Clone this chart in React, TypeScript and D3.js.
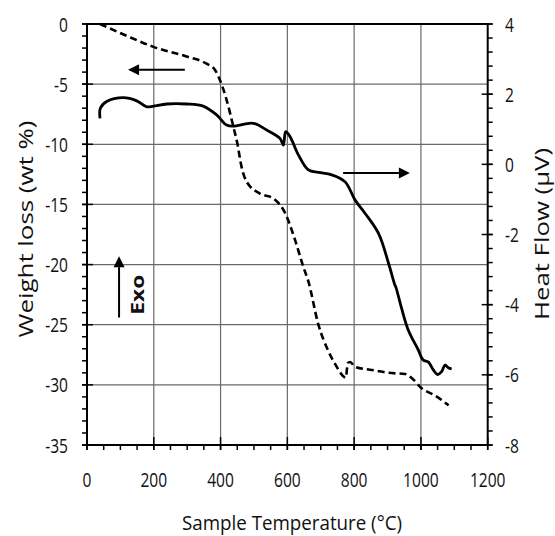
import React, { useEffect, useRef } from 'react';
import * as d3 from 'd3';

// weight loss curve (left axis), dashed
const tempW = [39, 120, 199, 298, 358, 383, 398, 418, 438, 450, 463, 478, 518, 558, 593, 623, 648, 663, 693, 723, 748, 768, 775, 781, 788, 803, 863, 903, 953, 973, 1003, 1043, 1083];
const weight = [0, -1.0, -1.9, -2.7, -3.3, -3.8, -4.65, -6.3, -8.5, -9.9, -11.9, -13.1, -14.1, -14.5, -15.7, -17.95, -20.2, -21.4, -25.0, -27.2, -28.5, -29.3, -29.4, -28.2, -28.1, -28.5, -28.8, -29.0, -29.1, -29.45, -30.3, -30.9, -31.7];

// heat flow curve (right axis), solid
const tempH = [39, 40, 59, 109, 149, 179, 199, 239, 298, 348, 388, 418, 438, 498, 538, 578, 588, 595, 608, 633, 663, 693, 733, 773, 803, 833, 873, 903, 922, 925, 942, 962, 992, 1007, 1022, 1037, 1050, 1062, 1072, 1082, 1092];
const heat = [1.31, 1.6, 1.79, 1.9, 1.81, 1.64, 1.66, 1.72, 1.72, 1.66, 1.41, 1.12, 1.09, 1.17, 0.98, 0.74, 0.55, 0.93, 0.79, 0.27, -0.16, -0.23, -0.3, -0.5, -1.02, -1.4, -1.97, -2.82, -3.44, -3.5, -4.1, -4.72, -5.29, -5.58, -5.63, -5.86, -5.99, -5.91, -5.72, -5.8, -5.83];

const xTicks = [0, 200, 400, 600, 800, 1000, 1200];
const leftTicks = [0, -5, -10, -15, -20, -25, -30, -35];
const rightTicks = [4, 2, 0, -2, -4, -6, -8];

const FONT = '"Open Sans", sans-serif';

const App = () => {
  const ref = useRef<SVGSVGElement | null>(null);

  useEffect(() => {
    if (!ref.current) return;
    const svg = d3.select(ref.current);
    svg.selectAll('*').remove();

    const x = d3.scaleLinear().domain([0, 1200]).range([87, 487.7]);
    const yL = d3.scaleLinear().domain([-35, 0]).range([445, 24]);
    const yR = d3.scaleLinear().domain([-8, 4]).range([445, 24]);
    const [x0, x1] = x.range();
    const [b, t] = yL.range();

    // grid
    const grid = svg.append('g').attr('stroke', '#6a6a6a').attr('stroke-width', 1.2);
    grid.selectAll('line.v')
      .data(xTicks.slice(1, -1))
      .join('line')
      .attr('class', 'v')
      .attr('x1', (d) => x(d)).attr('x2', (d) => x(d))
      .attr('y1', t).attr('y2', b);
    grid.selectAll('line.h')
      .data(leftTicks.slice(1, -1))
      .join('line')
      .attr('class', 'h')
      .attr('x1', x0).attr('x2', x1)
      .attr('y1', (d) => yL(d)).attr('y2', (d) => yL(d));

    // minor ticks
    const minor = svg.append('g').attr('stroke', '#000').attr('stroke-width', 1.5);
    minor.selectAll('line.ml')
      .data(d3.range(-35, 1, 1))
      .join('line')
      .attr('class', 'ml')
      .attr('x1', x0 - 5).attr('x2', x0)
      .attr('y1', (d) => yL(d)).attr('y2', (d) => yL(d));
    minor.selectAll('line.mr')
      .data(d3.range(-8, 4.01, 0.4))
      .join('line')
      .attr('class', 'mr')
      .attr('x1', x1).attr('x2', x1 + 5)
      .attr('y1', (d) => yR(d)).attr('y2', (d) => yR(d));
    minor.selectAll('line.mb')
      .data(d3.range(0, 1201, 50))
      .join('line')
      .attr('class', 'mb')
      .attr('x1', (d) => x(d)).attr('x2', (d) => x(d))
      .attr('y1', b).attr('y2', b + 5);

    // major ticks (crossing)
    const major = svg.append('g').attr('stroke', '#000').attr('stroke-width', 1.5);
    major.selectAll('line.Ml')
      .data(leftTicks)
      .join('line')
      .attr('class', 'Ml')
      .attr('x1', x0 - 5).attr('x2', x0 + 6)
      .attr('y1', (d) => yL(d)).attr('y2', (d) => yL(d));
    major.selectAll('line.Mr')
      .data(rightTicks)
      .join('line')
      .attr('class', 'Mr')
      .attr('x1', x1 - 6).attr('x2', x1 + 5)
      .attr('y1', (d) => yR(d)).attr('y2', (d) => yR(d));
    major.selectAll('line.Mb')
      .data(xTicks)
      .join('line')
      .attr('class', 'Mb')
      .attr('x1', (d) => x(d)).attr('x2', (d) => x(d))
      .attr('y1', b - 8).attr('y2', b + 5);

    // frame
    svg.append('rect')
      .attr('x', x0).attr('y', t)
      .attr('width', x1 - x0).attr('height', b - t)
      .attr('fill', 'none').attr('stroke', '#000').attr('stroke-width', 2);

    // curves
    const lineW = d3.line<number>().x((d, i) => x(tempW[i])).y((d) => yL(d)).curve(d3.curveMonotoneX);
    svg.append('path')
      .datum(weight)
      .attr('fill', 'none').attr('stroke', '#000')
      .attr('stroke-width', 2.6).attr('stroke-dasharray', '7,4')
      .attr('d', lineW);

    const lineH = d3.line<number>().x((d, i) => x(tempH[i])).y((d) => yR(d)).curve(d3.curveCatmullRom.alpha(0.5));
    svg.append('path')
      .datum(heat)
      .attr('fill', 'none').attr('stroke', '#000')
      .attr('stroke-width', 2.8).attr('stroke-linejoin', 'round')
      .attr('d', lineH);

    // tick labels
    const lbl = (g, tx, ty, s, anchor) => {
      g.append('text')
        .attr('transform', `translate(${tx},${ty}) scale(0.76,1)`)
        .attr('text-anchor', anchor)
        .attr('font-family', FONT).attr('font-size', 20.5)
        .attr('fill', '#111')
        .text(s);
    };
    const labels = svg.append('g');
    xTicks.forEach((d) => lbl(labels, x(d), 487, String(d), 'middle'));
    leftTicks.forEach((d) => lbl(labels, 68, yL(d) + 7.5, String(d), 'end'));
    rightTicks.forEach((d) => lbl(labels, 505, yR(d) + 7.5, String(d), 'start'));

    // axis titles
    svg.append('text')
      .attr('x', 292).attr('y', 530)
      .attr('text-anchor', 'middle')
      .attr('font-family', FONT).attr('font-size', 20)
      .attr('textLength', 220).attr('lengthAdjust', 'spacingAndGlyphs')
      .attr('fill', '#111')
      .text('Sample Temperature (°C)');
    svg.append('text')
      .attr('transform', `translate(33,229) rotate(-90)`)
      .attr('text-anchor', 'middle')
      .attr('font-family', FONT).attr('font-size', 20)
      .attr('textLength', 217).attr('lengthAdjust', 'spacingAndGlyphs')
      .attr('fill', '#111')
      .text('Weight loss (wt %)');
    svg.append('text')
      .attr('transform', `translate(549,234) rotate(-90)`)
      .attr('text-anchor', 'middle')
      .attr('font-family', FONT).attr('font-size', 20)
      .attr('textLength', 172).attr('lengthAdjust', 'spacingAndGlyphs')
      .attr('fill', '#111')
      .text('Heat Flow (µV)');

    // annotation arrows
    const arrow = (ax1, ay1, ax2, ay2) => {
      const ang = Math.atan2(ay2 - ay1, ax2 - ax1);
      const len = 11, w = 5.5;
      const bx = ax2 - len * Math.cos(ang), by = ay2 - len * Math.sin(ang);
      svg.append('line')
        .attr('x1', ax1).attr('y1', ay1).attr('x2', bx).attr('y2', by)
        .attr('stroke', '#000').attr('stroke-width', 2);
      svg.append('path')
        .attr('d', `M${ax2},${ay2}L${bx - w * Math.sin(ang)},${by + w * Math.cos(ang)}L${bx + w * Math.sin(ang)},${by - w * Math.cos(ang)}Z`)
        .attr('fill', '#000');
    };
    arrow(x(293), yL(-3.8), x(123), yL(-3.8));
    arrow(x(767), yR(-0.25), x(967), yR(-0.25));
    arrow(x(96), yL(-24.4), x(96), yL(-19.3));

    svg.append('text')
      .attr('transform', `translate(${x(150) + 7},${yL(-22.5)}) rotate(-90)`)
      .attr('text-anchor', 'middle')
      .attr('font-family', FONT).attr('font-size', 17).attr('font-weight', 'bold')
      .attr('textLength', 40).attr('lengthAdjust', 'spacingAndGlyphs')
      .attr('fill', '#111')
      .text('Exo');
  }, []);

  return (
    <svg
      ref={ref}
      width={555}
      height={536}
      style={{ position: 'absolute', left: 0, top: 0, background: '#fff' }}
    />
  );
};

export default App;
